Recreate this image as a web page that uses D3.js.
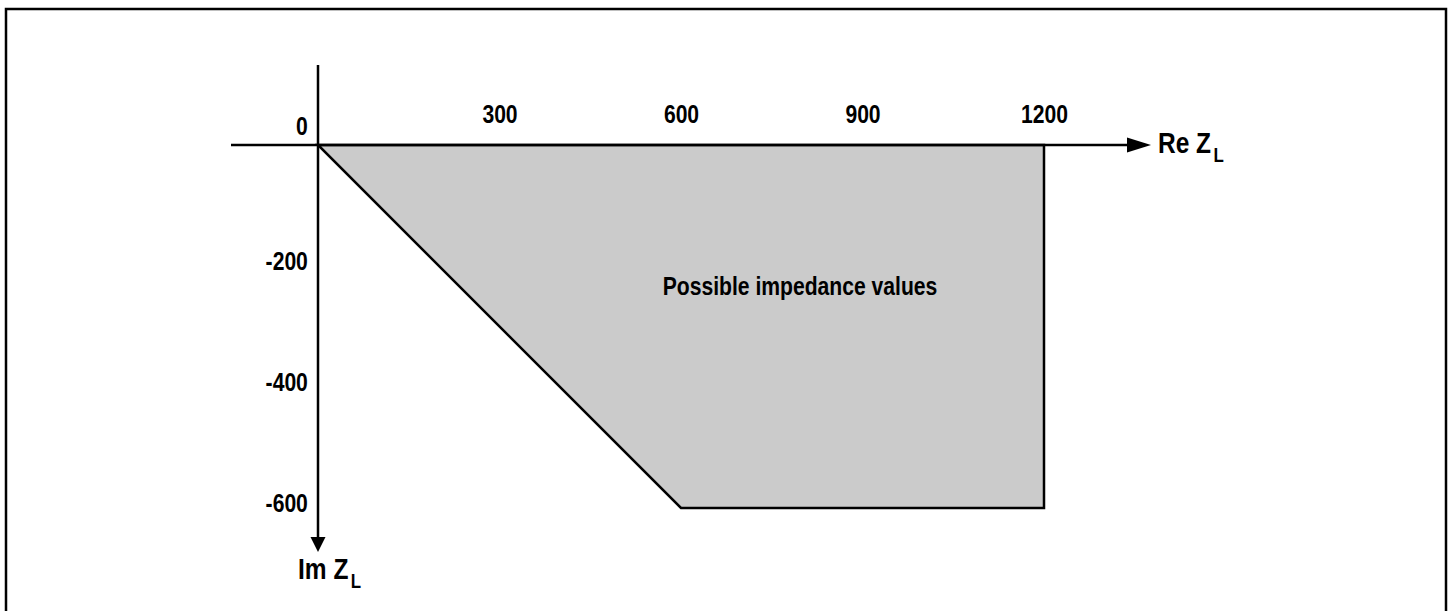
<!DOCTYPE html>
<html>
<head>
<meta charset="utf-8">
<script src="https://cdn.jsdelivr.net/npm/d3@7"></script>
<style>
  html, body { margin: 0; padding: 0; background: #fff; }
  svg { display: block; }
  text { font-family: "Liberation Sans", Arial, sans-serif; font-weight: bold; fill: #000; }
</style>
</head>
<body>
<svg id="chart" width="1449" height="611"></svg>
<script>
// ---- data ----
const xTickValues = [300, 600, 900, 1200];
const yTickValues = [0, -200, -400, -600];
const regionRe = [0, 1200, 1200, 600];
const regionIm = [0, 0, -600, -600];
const regionLabel = "Possible impedance values";
const xAxisLabel = "Re Z";
const yAxisLabel = "Im Z";
const subscript = "L";

// ---- layout ----
const NARROW = 0.845;
const svg = d3.select("#chart");
const x = d3.scaleLinear().domain([0, 1200]).range([318, 1044]);
const y = d3.scaleLinear().domain([0, -600]).range([145, 508]);

// border
svg.append("rect").attr("x", 6).attr("y", 9).attr("width", 1440).attr("height", 612)
  .attr("fill", "none").attr("stroke", "#000").attr("stroke-width", 2.5);

// region polygon
const pts = regionRe.map((r, i) => [x(r), y(regionIm[i])]);
svg.append("polygon")
  .attr("points", pts.map(p => p.join(",")).join(" "))
  .attr("fill", "#cbcbcb").attr("stroke", "#000").attr("stroke-width", 2.5)
  .attr("stroke-linejoin", "miter");

// axes lines
const x0 = x(0), y0 = y(0);
svg.append("line").attr("x1", 231).attr("y1", y0).attr("x2", 1130).attr("y2", y0)
  .attr("stroke", "#000").attr("stroke-width", 2.5);
svg.append("path").attr("d", `M1127,${y0-7.5} L1151,${y0} L1127,${y0+7.5} Z`).attr("fill", "#000");

svg.append("line").attr("x1", x0).attr("y1", 65).attr("x2", x0).attr("y2", 540)
  .attr("stroke", "#000").attr("stroke-width", 2.5);
svg.append("path").attr("d", `M${x0-7.5},537 L${x0},552 L${x0+7.5},537 Z`).attr("fill", "#000");

// x ticks (labels only)
const xAxis = d3.axisTop(x).tickValues(xTickValues).tickSize(0).tickPadding(22).tickFormat(d => String(d));
const gx = svg.append("g").attr("transform", `translate(0,${y0})`).call(xAxis);
gx.select(".domain").remove();
gx.selectAll("text").attr("font-size", 25).attr("font-family", null).attr("fill", "#000")
  .attr("transform", `scale(${NARROW},1)`);

// y ticks (labels only)
const yAxis = d3.axisLeft(y).tickValues(yTickValues).tickSize(0).tickPadding(12).tickFormat(d => String(d));
const gy = svg.append("g").attr("transform", `translate(${x0},0)`).call(yAxis);
gy.select(".domain").remove();
gy.selectAll("text").attr("font-size", 25).attr("font-family", null).attr("fill", "#000")
  .attr("transform", `scale(${NARROW},1)`)
  .attr("dy", d => d === 0 ? "-0.44em" : "0.12em");

// axis titles
function title(px, py, label) {
  const t = svg.append("g").attr("transform", `translate(${px},${py}) scale(${NARROW},1)`)
    .append("text").attr("x", 0).attr("y", 0).attr("font-size", 29);
  t.append("tspan").text(label);
  t.append("tspan").text(subscript).attr("font-size", 20).attr("dx", 3).attr("dy", 9);
}
title(1158, 153, xAxisLabel);
title(298, 579, yAxisLabel);

// region label
svg.append("g").attr("transform", `translate(800,295) scale(${NARROW},1)`)
  .append("text").attr("text-anchor", "middle").attr("font-size", 25).text(regionLabel);
</script>
</body>
</html>
